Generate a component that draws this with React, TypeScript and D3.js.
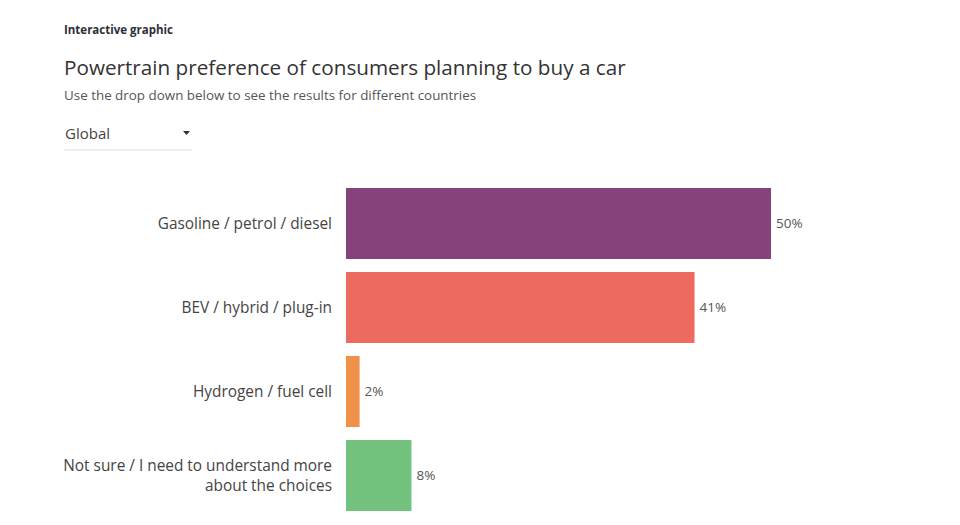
import React, {useRef, useEffect} from "react";
import * as d3 from "d3";

// chart data
const categories = [
    ["Gasoline / petrol / diesel"],
    ["BEV / hybrid / plug-in"],
    ["Hydrogen / fuel cell"],
    ["Not sure / I need to understand more", "about the choices"],
];
const values = [50, 41, 1.6, 7.7];
const barColors = ["#86427a", "#ec6b5e", "#f0914a", "#72c27d"];

const App = () => {
    const ref = useRef<SVGSVGElement>(null);

    useEffect(() => {
        const svgWidth = 960;
        const svgHeight = 525;
        const font = "'Open Sans', sans-serif";

        const svg = d3.select(ref.current)
            .attr("width", svgWidth)
            .attr("height", svgHeight);

        svg.selectAll("*").remove();

        svg.append("rect")
            .attr("width", svgWidth)
            .attr("height", svgHeight)
            .attr("fill", "#fff");

        // header texts
        svg.append("text")
            .attr("x", 64).attr("y", 34)
            .text("Interactive graphic")
            .style("font-family", font)
            .style("font-size", "11.5px")
            .style("font-weight", "bold")
            .style("fill", "#2e2e38");

        svg.append("text")
            .attr("x", 64).attr("y", 75)
            .text("Powertrain preference of consumers planning to buy a car")
            .style("font-family", font)
            .style("font-size", "20.7px")
            .style("fill", "#333");

        svg.append("text")
            .attr("x", 64).attr("y", 100)
            .text("Use the drop down below to see the results for different countries")
            .style("font-family", font)
            .style("font-size", "13.4px")
            .style("fill", "#555");

        // fake dropdown
        svg.append("text")
            .attr("x", 65).attr("y", 139)
            .text("Global")
            .style("font-family", font)
            .style("font-size", "15px")
            .style("fill", "#444");
        svg.append("path")
            .attr("d", "M183,131 L190,131 L186.5,135 Z")
            .attr("fill", "#333");
        svg.append("line")
            .attr("x1", 64).attr("x2", 192)
            .attr("y1", 150).attr("y2", 150)
            .attr("stroke", "#ddd");

        // scales
        const xScale = d3.scaleLinear()
            .domain([0, 50])
            .range([346, 771]);

        const yScale = d3.scaleBand<number>()
            .domain(d3.range(values.length))
            .range([188, 511])
            .paddingInner(0.155)
            .paddingOuter(0);

        svg.selectAll("rect.bar")
            .data(values)
            .enter()
            .append("rect")
            .attr("class", "bar")
            .attr("x", xScale(0))
            .attr("y", (d, i) => yScale(i)!)
            .attr("width", d => xScale(d) - xScale(0))
            .attr("height", yScale.bandwidth())
            .attr("fill", (d, i) => barColors[i]);

        // value labels
        svg.selectAll("text.value")
            .data(values)
            .enter()
            .append("text")
            .attr("class", "value")
            .attr("x", d => xScale(d) + 5)
            .attr("y", (d, i) => yScale(i)! + yScale.bandwidth() / 2)
            .attr("dy", "0.35em")
            .text(d => `${Math.round(d)}%`)
            .style("font-family", font)
            .style("font-size", "13.5px")
            .style("fill", "#555");

        // category labels
        const labels = svg.selectAll("text.cat")
            .data(categories)
            .enter()
            .append("text")
            .attr("class", "cat")
            .attr("text-anchor", "end")
            .style("font-family", font)
            .style("font-size", "15.4px")
            .style("fill", "#444");

        labels.each(function (lines, i) {
            const cy = yScale(i)! + yScale.bandwidth() / 2;
            const lh = 20;
            lines.forEach((line, j) => {
                d3.select(this).append("tspan")
                    .attr("x", 332)
                    .attr("y", cy + (j - (lines.length - 1) / 2) * lh)
                    .attr("dy", "0.35em")
                    .text(line);
            });
        });
    }, []);

    return (
        <div style={{position: "absolute", left: 0, top: 0}}>
            <svg ref={ref}></svg>
        </div>
    );
};

export default App;
